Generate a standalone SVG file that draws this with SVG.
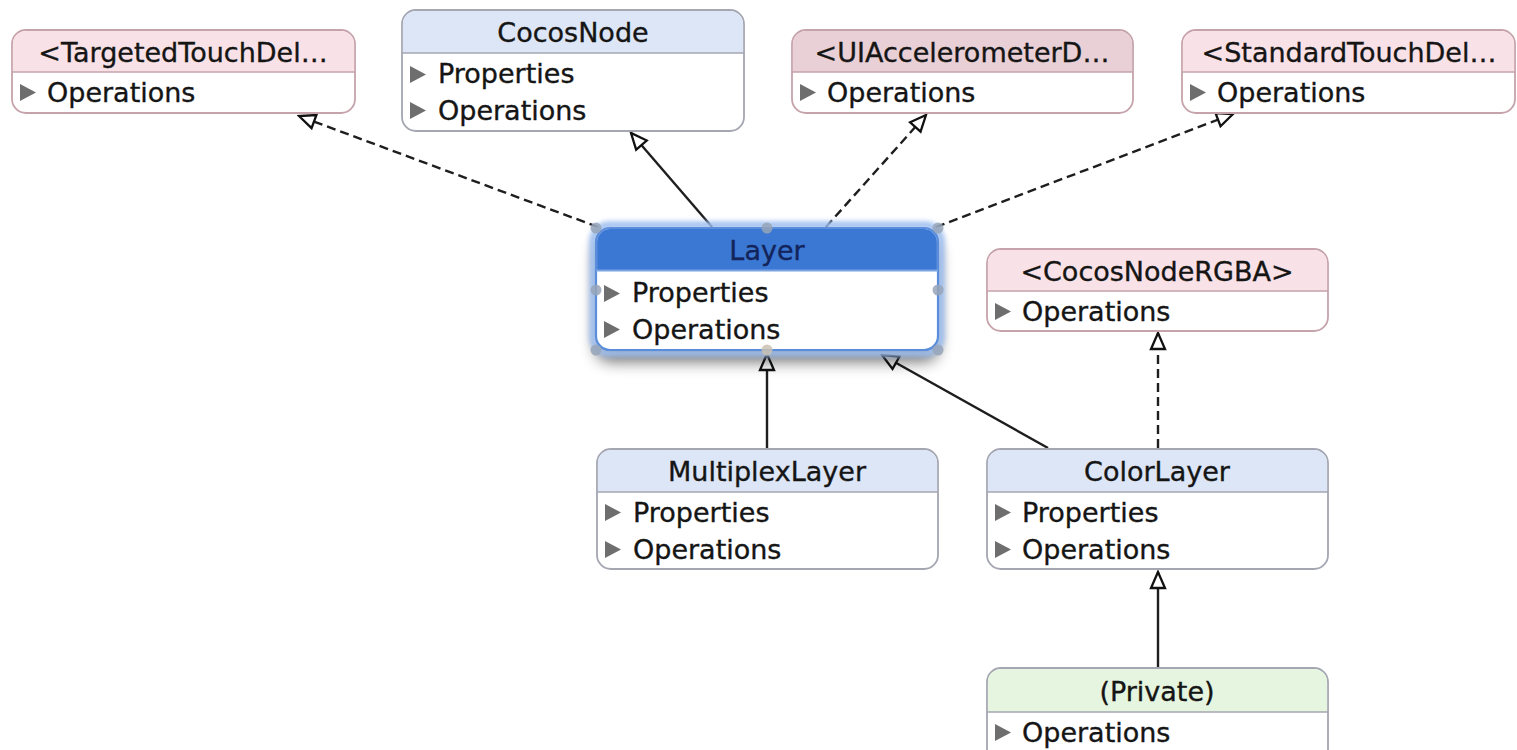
<svg xmlns="http://www.w3.org/2000/svg" width="1517" height="750" viewBox="0 0 1517 750">
<style>
.t{font-family:"DejaVu Sans","Liberation Sans",sans-serif;font-size:27px;fill:#151515;stroke:#151515;stroke-width:0.35}
.h{text-anchor:middle}
.box{fill:#fff;stroke:#a4a6b2;stroke-width:1.8}
.pbox{fill:#fff;stroke:#c6a3ab;stroke-width:1.8}
.pink{fill:#f9e2e7}
.dpink{fill:#e8d0d6}
.blue{fill:#dde6f6}
.green{fill:#e6f5df}
.sep{stroke:#a4a6b2;stroke-width:1.5}
.psep{stroke:#c6a3ab;stroke-width:1.5}
.tri{fill:#6e6e6e}
.c{stroke:#1e1e1e;stroke-width:2.4;fill:none}
.d{stroke-dasharray:9,5}
.hd{fill:#97a4b8;opacity:0.85}
</style>
<defs>
<marker id="arr" markerUnits="userSpaceOnUse" viewBox="-1 -9 20 18" refX="17" refY="0" markerWidth="20" markerHeight="18" orient="auto">
<path d="M17,0 L1,-7 L1,7 Z" fill="#fff" stroke="#111" stroke-width="2.3" stroke-linejoin="miter"/>
</marker>
<filter id="sh" x="-20%" y="-30%" width="140%" height="180%">
<feGaussianBlur in="SourceAlpha" stdDeviation="8"/>
<feOffset dy="11" result="b"/>
<feComponentTransfer><feFuncA type="linear" slope="0.6"/></feComponentTransfer>
<feMerge><feMergeNode/><feMergeNode in="SourceGraphic"/></feMerge>
</filter>
<filter id="gl" x="-10%" y="-20%" width="120%" height="140%">
<feGaussianBlur stdDeviation="2.5"/>
</filter>
</defs>

<g id="connectors">
<line class="c d" x1="598" y1="227" x2="299" y2="116" marker-end="url(#arr)"/>
<line class="c" x1="712" y1="227" x2="631" y2="133" marker-end="url(#arr)"/>
<line class="c d" x1="826" y1="227" x2="926" y2="115" marker-end="url(#arr)"/>
<line class="c d" x1="936" y1="227" x2="1233" y2="114" marker-end="url(#arr)"/>
<line class="c" x1="767" y1="448" x2="767" y2="354" marker-end="url(#arr)"/>
<line class="c" x1="1048" y1="448" x2="882" y2="355" marker-end="url(#arr)"/>
<line class="c d" x1="1158" y1="448" x2="1158" y2="333" marker-end="url(#arr)"/>
<line class="c" x1="1158" y1="667" x2="1158" y2="572" marker-end="url(#arr)"/>
</g>

<g id="TargetedTouchDelegate">
<rect class="pbox" x="12" y="30" width="343" height="83" rx="14"/>
<path class="pink" d="M12.9,72 V44 A13.1,13.1 0 0 1 26,30.9 H341 A13.1,13.1 0 0 1 354.1,44 V72 Z"/>
<line class="psep" x1="12" y1="72" x2="355" y2="72"/>
<text class="t h" x="183" y="62">&lt;TargetedTouchDel…</text>
<path class="tri" d="M20,84 L36,92.5 L20,101 Z"/>
<text class="t" x="47" y="102">Operations</text>
</g>

<g id="CocosNode">
<rect class="box" x="402" y="10" width="342" height="121" rx="14"/>
<path class="blue" d="M402.9,53 V24 A13.1,13.1 0 0 1 416,10.9 H730 A13.1,13.1 0 0 1 743.1,24 V53 Z"/>
<line class="sep" x1="402" y1="53" x2="744" y2="53"/>
<text class="t h" x="573" y="42">CocosNode</text>
<path class="tri" d="M410,66 L426,74.5 L410,83 Z"/>
<text class="t" x="438" y="83">Properties</text>
<path class="tri" d="M410,102 L426,110.5 L410,119 Z"/>
<text class="t" x="438" y="120">Operations</text>
</g>

<g id="UIAccelerometerDelegate">
<rect class="pbox" x="792" y="30" width="341" height="83" rx="14"/>
<path class="dpink" d="M792.9,72 V44 A13.1,13.1 0 0 1 806,30.9 H1119 A13.1,13.1 0 0 1 1132.1,44 V72 Z"/>
<line class="psep" x1="792" y1="72" x2="1133" y2="72"/>
<text class="t h" x="962" y="62">&lt;UIAccelerometerD…</text>
<path class="tri" d="M800,84 L816,92.5 L800,101 Z"/>
<text class="t" x="827" y="102">Operations</text>
</g>

<g id="StandardTouchDelegate">
<rect class="pbox" x="1182" y="30" width="333" height="83" rx="14"/>
<path class="pink" d="M1182.9,72 V44 A13.1,13.1 0 0 1 1196,30.9 H1501 A13.1,13.1 0 0 1 1514.1,44 V72 Z"/>
<line class="psep" x1="1182" y1="72" x2="1515" y2="72"/>
<text class="t h" x="1349" y="62">&lt;StandardTouchDel…</text>
<path class="tri" d="M1190,84 L1206,92.5 L1190,101 Z"/>
<text class="t" x="1217" y="102">Operations</text>
</g>

<g id="Layer">
<rect x="596" y="228" width="342" height="122" rx="14" fill="#fff" filter="url(#sh)"/>
<rect x="593" y="225" width="348" height="128" rx="16" fill="none" stroke="#9fbff0" stroke-width="7" filter="url(#gl)"/>
<rect x="596" y="228" width="342" height="122" rx="14" fill="#fff" stroke="#5a8edc" stroke-width="2.2"/>
<path d="M597.1,270 V242 A12.9,12.9 0 0 1 610,229.1 H924 A12.9,12.9 0 0 1 936.9,242 V270 Z" fill="#3b78d4"/>
<line x1="596" y1="270.5" x2="938" y2="270.5" stroke="#7aa3e2" stroke-width="2"/>
<text class="t h" x="767" y="260" style="fill:#13245a;stroke:#13245a">Layer</text>
<path class="tri" d="M604,285 L620,293.5 L604,302 Z"/>
<text class="t" x="632" y="302">Properties</text>
<path class="tri" d="M604,321 L620,329.5 L604,338 Z"/>
<text class="t" x="632" y="339">Operations</text>
<circle class="hd" cx="596" cy="228" r="5.5"/>
<circle class="hd" cx="767" cy="228" r="5.5"/>
<circle class="hd" cx="938" cy="228" r="5.5"/>
<circle class="hd" cx="596" cy="290" r="5.5"/>
<circle class="hd" cx="938" cy="290" r="5.5"/>
<circle class="hd" cx="596" cy="350" r="5.5"/>
<circle class="hd" cx="767" cy="350" r="5.5" style="fill:#c9c1b2"/>
<circle class="hd" cx="938" cy="350" r="5.5"/>
</g>

<g id="CocosNodeRGBA">
<rect class="pbox" x="987" y="249" width="341" height="82" rx="14"/>
<path class="pink" d="M987.9,291 V263 A13.1,13.1 0 0 1 1001,249.9 H1314 A13.1,13.1 0 0 1 1327.1,263 V291 Z"/>
<line class="psep" x1="987" y1="291" x2="1328" y2="291"/>
<text class="t h" x="1157" y="281">&lt;CocosNodeRGBA&gt;</text>
<path class="tri" d="M995,303 L1011,311.5 L995,320 Z"/>
<text class="t" x="1022" y="321">Operations</text>
</g>

<g id="MultiplexLayer">
<rect class="box" x="597" y="449" width="341" height="120" rx="14"/>
<path class="blue" d="M597.9,492 V463 A13.1,13.1 0 0 1 611,449.9 H924 A13.1,13.1 0 0 1 937.1,463 V492 Z"/>
<line class="sep" x1="597" y1="492" x2="938" y2="492"/>
<text class="t h" x="767" y="481">MultiplexLayer</text>
<path class="tri" d="M605,504 L621,512.5 L605,521 Z"/>
<text class="t" x="633" y="522">Properties</text>
<path class="tri" d="M605,541 L621,549.5 L605,558 Z"/>
<text class="t" x="633" y="559">Operations</text>
</g>

<g id="ColorLayer">
<rect class="box" x="987" y="449" width="341" height="120" rx="14"/>
<path class="blue" d="M987.9,492 V463 A13.1,13.1 0 0 1 1001,449.9 H1314 A13.1,13.1 0 0 1 1327.1,463 V492 Z"/>
<line class="sep" x1="987" y1="492" x2="1328" y2="492"/>
<text class="t h" x="1157" y="481">ColorLayer</text>
<path class="tri" d="M995,504 L1011,512.5 L995,521 Z"/>
<text class="t" x="1022" y="522">Properties</text>
<path class="tri" d="M995,541 L1011,549.5 L995,558 Z"/>
<text class="t" x="1022" y="559">Operations</text>
</g>

<g id="Private">
<rect class="box" x="987" y="668" width="341" height="100" rx="14"/>
<path class="green" d="M987.9,712 V682 A13.1,13.1 0 0 1 1001,668.9 H1314 A13.1,13.1 0 0 1 1327.1,682 V712 Z"/>
<line class="sep" x1="987" y1="712" x2="1328" y2="712"/>
<text class="t h" x="1157" y="701">(Private)</text>
<path class="tri" d="M995,724 L1011,732.5 L995,741 Z"/>
<text class="t" x="1022" y="742">Operations</text>
</g>
</svg>
